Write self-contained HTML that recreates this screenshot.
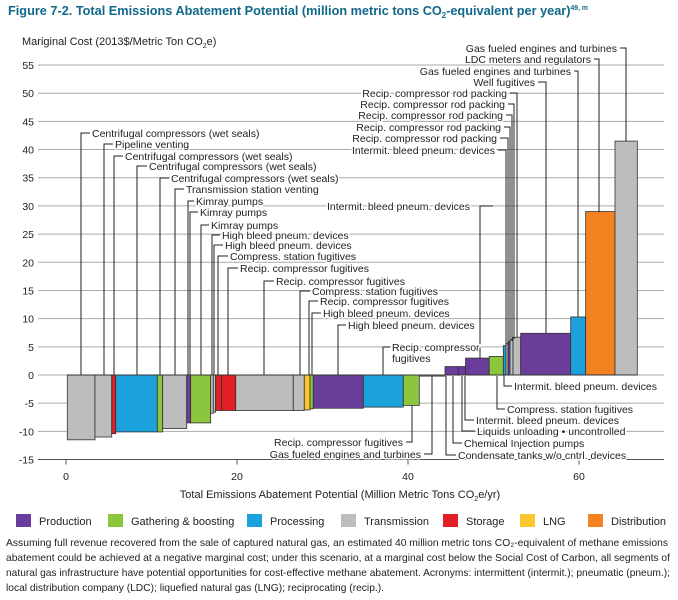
<!DOCTYPE html>
<html><head><meta charset="utf-8"><style>
body{margin:0;background:#fff;}
svg{display:block;font-family:"Liberation Sans",sans-serif;}
.lb{font-size:10.5px;fill:#222;paint-order:stroke;stroke:#fff;stroke-width:3px;stroke-linejoin:round;}
.ft{font-family:"Liberation Sans Narrow","Liberation Sans",sans-serif;font-size:10.5px;fill:#222;}
</style></head><body>
<svg id="c" width="678" height="600" viewBox="0 0 678 600">
<text x="8" y="15" font-size="13" font-weight="bold" fill="#11688a" textLength="580" lengthAdjust="spacingAndGlyphs">Figure 7-2. Total Emissions Abatement Potential (million metric tons CO<tspan font-size="8" dy="3">2</tspan><tspan dy="-3">-equivalent per year)</tspan><tspan font-size="7" dy="-5">49, m</tspan></text>
<text x="22" y="45" font-size="11" fill="#222">Mariginal Cost (2013$/Metric Ton CO<tspan font-size="7" dy="3">2</tspan><tspan dy="-3">e)</tspan></text>
<g id="grid"></g><g id="bars"></g><g id="leaders"></g><g id="labels"></g>
<text x="340" y="498" font-size="11" fill="#222" text-anchor="middle">Total Emissions Abatement Potential (Million Metric Tons CO<tspan font-size="7" dy="3">2</tspan><tspan dy="-3">e/yr)</tspan></text>
<g id="legend"></g>
<g>
<text class="ft" x="6" y="546" textLength="662" lengthAdjust="spacingAndGlyphs">Assuming full revenue recovered from the sale of captured natural gas, an estimated 40 million metric tons CO₂-equivalent of methane emissions</text>
<text class="ft" x="6" y="561" textLength="664" lengthAdjust="spacingAndGlyphs">abatement could be achieved at a negative marginal cost; under this scenario, at a marginal cost below the Social Cost of Carbon, all segments of</text>
<text class="ft" x="6" y="576" textLength="664" lengthAdjust="spacingAndGlyphs">natural gas infrastructure have potential opportunities for cost-effective methane abatement. Acronyms: intermittent (intermit.); pneumatic (pneum.);</text>
<text class="ft" x="6" y="591" textLength="378" lengthAdjust="spacingAndGlyphs">local distribution company (LDC); liquefied natural gas (LNG); reciprocating (recip.).</text>
</g>
</svg>
<script>
const yTicks=[-15,-10,-5,0,5,10,15,20,25,30,35,40,45,50,55];
const xTicks=[0,20,40,60];
const segments=["Production","Gathering & boosting","Processing","Transmission","Storage","LNG","Distribution"];
const segColors=["#6a3d9a","#8cc63f","#1ba1dc","#bdbdbd","#e31e25","#fdc52f","#f58220"];
const barSegment=[3,3,4,2,1,3,0,1,3,3,4,4,3,3,5,1,0,2,1,3,0,0,0,1,2,3,0,3,3,0,2,6,3];
const barWidth=[3.24,1.96,0.46,4.87,0.63,2.81,0.46,2.34,0.31,0.27,0.71,1.64,6.73,1.29,0.67,0.38,5.85,4.68,1.87,3.01,1.55,0.85,2.77,1.65,0.31,0.24,0.23,0.35,0.9,5.85,1.75,3.43,2.61];
const barCost=[-11.5,-11,-10.4,-10.1,-10.1,-9.5,-8.5,-8.5,-6.8,-6.6,-6.3,-6.3,-6.3,-6.3,-6.2,-6,-5.9,-5.7,-5.4,-0.2,1.5,1.5,3,3.3,5.2,5.6,6,6.3,6.7,7.4,10.3,29,41.5];
const xStart=0.15;
const NS="http://www.w3.org/2000/svg";
const X=v=>66+v*8.55, Y=v=>375-v*5.636;
function mk(t,a,p){const e=document.createElementNS(NS,t);for(const k in a)e.setAttribute(k,a[k]);p.appendChild(e);return e;}
const grid=document.getElementById('grid');
yTicks.forEach(t=>{
 const l=mk('line',{x1:38,x2:664,y1:Y(t),y2:Y(t),stroke:t===-15?'#555':'#aaa','stroke-width':1},grid);
 
 
 const tx=mk('text',{x:34,y:Y(t)+4,'font-size':10.5,'text-anchor':'end',fill:'#222'},grid);tx.textContent=t;
 
 
});
xTicks.forEach(t=>{
 mk('line',{x1:X(t),x2:X(t),y1:Y(-15),y2:Y(-15)+5,stroke:'#555'},grid);
 const tx=mk('text',{x:X(t),y:480,'font-size':10.5,'text-anchor':'middle',fill:'#222'},grid);tx.textContent=t;
 
 
});
const bars=document.getElementById('bars');
let cx=xStart;
barWidth.forEach((w,i)=>{
 const c=barCost[i],y0=Y(Math.max(c,0)),y1=Y(Math.min(c,0));
 const r=mk('rect',{x:X(cx),y:y0,width:w*8.55,height:Math.max(y1-y0,1),fill:segColors[barSegment[i]],stroke:'#333','stroke-width':0.8},bars);
 
 
 cx+=w;
});
mk('line',{x1:X(xStart),x2:X(cx),y1:375,y2:375,stroke:'#333','stroke-width':1},bars);
// annotations: [text, textX, textY, anchor, leaderX, leaderEndY]
const ann=[
["Centrifugal compressors (wet seals)",92,137,"start",81,375],
["Pipeline venting",115,148,"start",104,375],
["Centrifugal compressors (wet seals)",125,160,"start",114,375],
["Centrifugal compressors (wet seals)",149,170,"start",137,375],
["Centrifugal compressors (wet seals)",171,182,"start",160,375],
["Transmission station venting",186,193,"start",175,375],
["Kimray pumps",196,205,"start",188,375],
["Kimray pumps",200,216,"start",190,375],
["Kimray pumps",211,229,"start",201,375],
["High bleed pneum. devices",222,239,"start",212,375],
["High bleed pneum. devices",225,249,"start",214,375],
["Compress. station fugitives",230,260,"start",218,375],
["Recip. compressor fugitives",240,272,"start",228,375],
["Recip. compressor fugitives",276,285,"start",264,375],
["Compress. station fugitives",312,295,"start",300,375],
["Recip. compressor fugitives",320,305,"start",309,375],
["High bleed pneum. devices",323,317,"start",312,375],
["High bleed pneum. devices",348,329,"start",338,375],
["Recip. compressor",392,351,"start",383,375],
["Intermit. bleed pneum. devices",327,210,"start",480,359],
["Gas fueled engines and turbines",617,52,"end",626,141],
["LDC meters and regulators",591,63,"end",599,212],
["Gas fueled engines and turbines",571,75,"end",578,317],
["Well fugitives",535,86,"end",546,333],
["Recip. compressor rod packing",507,97,"end",517,337],
["Recip. compressor rod packing",505,108,"end",514,339],
["Recip. compressor rod packing",503,119,"end",512,341],
["Recip. compressor rod packing",501,131,"end",510,343],
["Recip. compressor rod packing",497,142,"end",508,345],
["Intermit. bleed pneum. devices",495,154,"end",506,346],
["Intermit. bleed pneum. devices",514,390,"start",504,375],
["Compress. station fugitives",507,413,"start",497,376],
["Intermit. bleed pneum. devices",476,424,"start",465,376],
["Liquids unloading • uncontrolled",477,435,"start",462,376],
["Chemical Injection pumps",464,447,"start",453,376],
["Condensate tanks w/o cntrl. devices",458,459,"start",446,376],
["Recip. compressor fugitives",403,446,"end",412,406],
["Gas fueled engines and turbines",421,458,"end",432,376]
];
const lg=document.getElementById('leaders'),lb=document.getElementById('labels');
ann.forEach(a=>{
 const [t,tx,ty,an,lx,ly]=a;
 let hx1=an==="start"?tx-2:tx+3;
 if(t==="Intermit. bleed pneum. devices"&&tx===327){hx1=493;}
 mk('polyline',{points:`${hx1},${ty-4} ${lx},${ty-4} ${lx},${ly}`,fill:'none',stroke:'#222','stroke-width':1},lg);
 const e=mk('text',{x:tx,y:ty,'text-anchor':an,class:'lb'},lb);e.textContent=t;
 
 
});
const e2=mk('text',{x:392,y:362,class:'lb'},lb);e2.textContent="fugitives";


const leg=document.getElementById('legend');
const legX=[16,108,247,341,443,520,588];
segments.forEach((s,i)=>{
 const g=mk('g',{},leg);
 
 
 mk('rect',{x:legX[i],y:514,width:15,height:13,fill:segColors[i]},g);
 const t=mk('text',{x:legX[i]+23,y:525,'font-size':11,fill:'#222'},g);t.textContent=s;
});
</script>
</body></html>
